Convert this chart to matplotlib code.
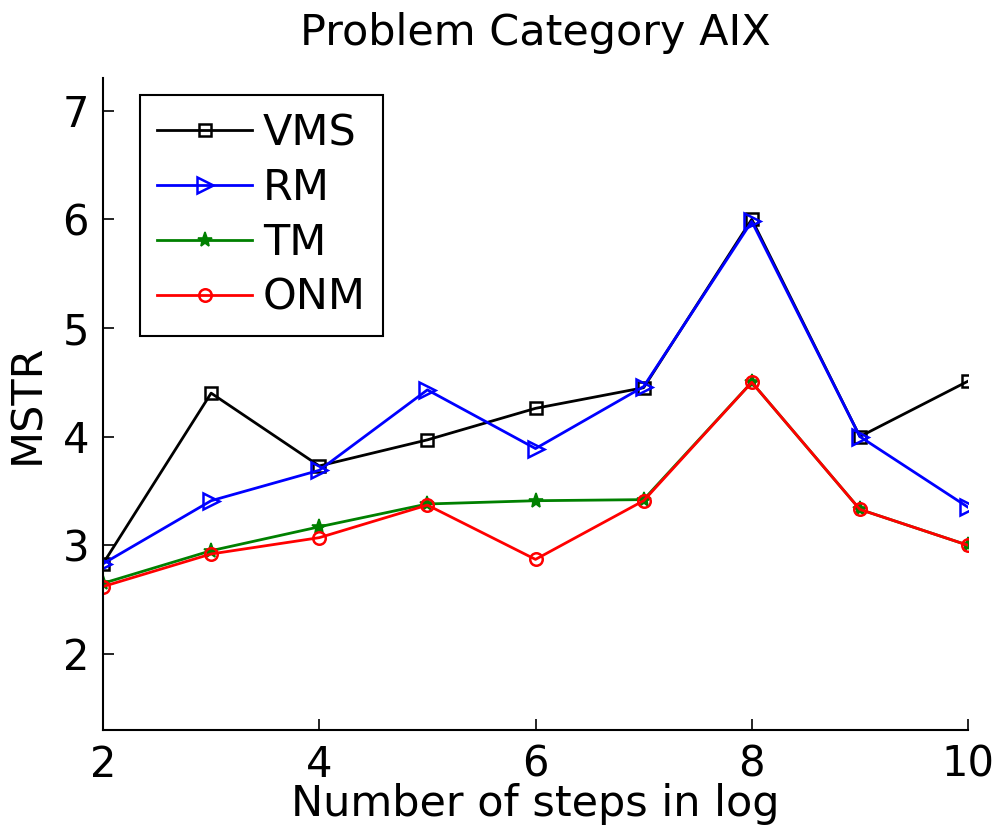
import matplotlib
matplotlib.use("Agg")
import matplotlib.pyplot as plt

steps = [2, 3, 4, 5, 6, 7, 8, 9, 10]
vms = [2.83, 4.40, 3.73, 3.97, 4.26, 4.45, 6.00, 4.00, 4.51]
rm = [2.83, 3.41, 3.69, 4.43, 3.89, 4.46, 5.98, 4.00, 3.35]
tm = [2.65, 2.95, 3.17, 3.38, 3.41, 3.42, 4.50, 3.33, 3.00]
onm = [2.62, 2.92, 3.07, 3.37, 2.87, 3.41, 4.50, 3.33, 3.00]
series_names = ["VMS", "RM", "TM", "ONM"]

plt.rcParams['font.family'] = ['DejaVu Sans']
FS = 31
TFS = 30

fig = plt.figure(figsize=(9.96, 8.36), dpi=100)
ax = fig.add_axes([103/996, 1 - 730/836, (968-103)/996, (730-78)/836])

lw = 2.0
ax.plot(steps, vms, color='black', marker='s', markersize=9, markerfacecolor='none',
        markeredgewidth=1.8, linewidth=lw, label=series_names[0])
ax.plot(steps, rm, color='#0000ff', marker='>', markersize=12, markerfacecolor='none',
        markeredgewidth=1.8, linewidth=lw, label=series_names[1])
ax.plot(steps, tm, color='#008000', marker='*', markersize=11,
        markeredgewidth=1.2, linewidth=lw, label=series_names[2])
ax.plot(steps, onm, color='#ff0000', marker='o', markersize=9, markerfacecolor='none',
        markeredgewidth=1.8, linewidth=lw, label=series_names[3])

ax.set_xlim(2, 10)
ax.set_ylim(1.3, 7.3)
ax.set_xticks([2, 4, 6, 8, 10])
ax.set_yticks([2, 3, 4, 5, 6, 7])
ax.spines['top'].set_visible(False)
ax.spines['right'].set_visible(False)
ax.spines['left'].set_linewidth(1.5)
ax.spines['bottom'].set_linewidth(1.5)
ax.tick_params(direction='in', length=8, width=1.2, labelsize=TFS, pad=10)

ax.set_xlabel("Number of steps in log", fontsize=FS, labelpad=-2)
ax.set_ylabel("MSTR", fontsize=FS, labelpad=10)
ax.set_title("Problem Category AIX", fontsize=FS, pad=24)

leg = ax.legend(loc='upper left', bbox_to_anchor=(37/865, 1 - 17/652), fontsize=FS,
                frameon=True, fancybox=False, edgecolor='black', framealpha=1,
                handlelength=2.2, handletextpad=0.25, labelspacing=0.3, borderpad=0.4,
                borderaxespad=0)
leg.get_frame().set_linewidth(1.5)

fig.savefig("out.png", dpi=100)
